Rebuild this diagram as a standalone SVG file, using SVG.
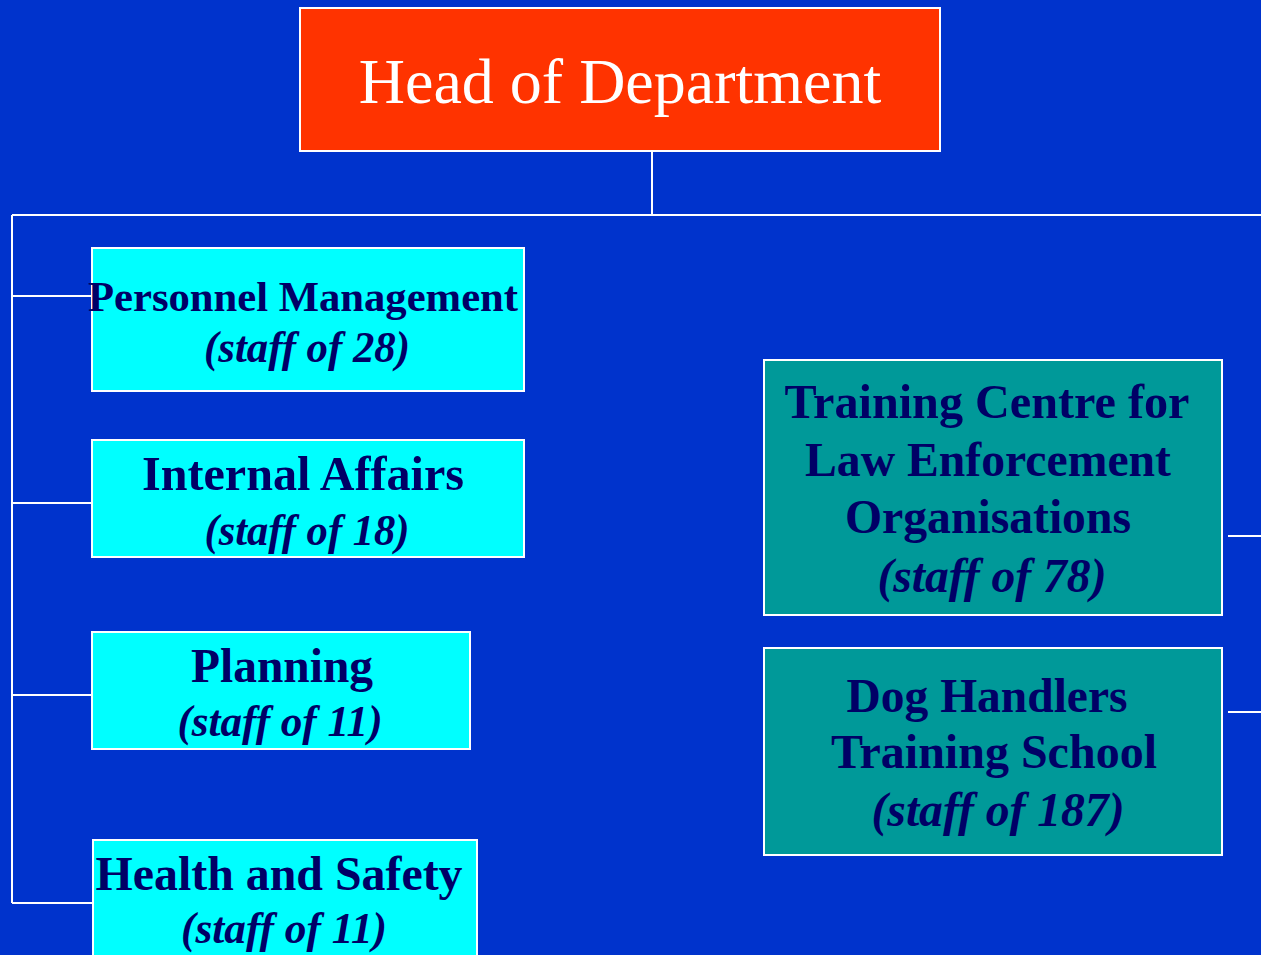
<svg xmlns="http://www.w3.org/2000/svg" width="1261" height="955" viewBox="0 0 1261 955">
<style>
.bg{fill:#0033CC}
.box{stroke:#FFFFFF;stroke-width:2}
.head{fill:#FF3300}
.light{fill:#00FFFF}
.teal{fill:#009999}
.conn{stroke:#FFFFFF;stroke-width:2;fill:none}
.t{font-family:"Liberation Serif","Times New Roman",serif;font-size:48px;font-weight:bold;fill:#000066;text-anchor:middle}
.s{font-size:43px}
.i{font-style:italic;font-size:44px}
.ir{font-style:italic}
.ht{font-family:"Liberation Serif","Times New Roman",serif;font-size:64px;fill:#FFFFFF;text-anchor:middle}
</style>
<rect class="bg" x="0" y="0" width="1261" height="955"/>
<g id="connectors">
<path class="conn" d="M652 152V215M12 215H1261M12 215V903M12 296H92M12 503H92M12 695H92M12 903H93M1228 536H1261M1228 712H1261"/>
</g>
<g id="head">
<rect class="box head" x="300" y="8" width="640" height="143"/>
<text class="ht" x="620" y="103">Head of Department</text>
</g>
<g id="personnel">
<rect class="box light" x="92" y="248" width="432" height="143"/>
<text class="t s" x="303" y="311" textLength="430" lengthAdjust="spacingAndGlyphs">Personnel Management</text>
<text class="t i" x="307" y="362" textLength="206" lengthAdjust="spacingAndGlyphs">(staff of 28)</text>
</g>
<g id="internal">
<rect class="box light" x="92" y="440" width="432" height="117"/>
<text class="t" x="303" y="490" textLength="322" lengthAdjust="spacingAndGlyphs">Internal Affairs</text>
<text class="t i" x="307" y="545" textLength="205" lengthAdjust="spacingAndGlyphs">(staff of 18)</text>
</g>
<g id="planning">
<rect class="box light" x="92" y="632" width="378" height="117"/>
<text class="t" x="282" y="682" textLength="182" lengthAdjust="spacingAndGlyphs">Planning</text>
<text class="t i" x="280" y="736" textLength="205" lengthAdjust="spacingAndGlyphs">(staff of 11)</text>
</g>
<g id="health">
<rect class="box light" x="93" y="840" width="384" height="125"/>
<text class="t" x="279" y="890" textLength="367" lengthAdjust="spacingAndGlyphs">Health and Safety</text>
<text class="t i" x="284" y="943" textLength="206" lengthAdjust="spacingAndGlyphs">(staff of 11)</text>
</g>
<g id="training">
<rect class="box teal" x="764" y="360" width="458" height="255"/>
<text class="t" x="987" y="418" textLength="405" lengthAdjust="spacingAndGlyphs">Training Centre for</text>
<text class="t" x="988" y="476" textLength="366" lengthAdjust="spacingAndGlyphs">Law Enforcement</text>
<text class="t" x="988" y="533" textLength="286" lengthAdjust="spacingAndGlyphs">Organisations</text>
<text class="t ir" x="992" y="592" textLength="229" lengthAdjust="spacingAndGlyphs">(staff of 78)</text>
</g>
<g id="dog">
<rect class="box teal" x="764" y="648" width="458" height="207"/>
<text class="t" x="987" y="712" textLength="281" lengthAdjust="spacingAndGlyphs">Dog Handlers</text>
<text class="t" x="994" y="768" textLength="326" lengthAdjust="spacingAndGlyphs">Training School</text>
<text class="t ir" x="998" y="826" textLength="253" lengthAdjust="spacingAndGlyphs">(staff of 187)</text>
</g>
</svg>
